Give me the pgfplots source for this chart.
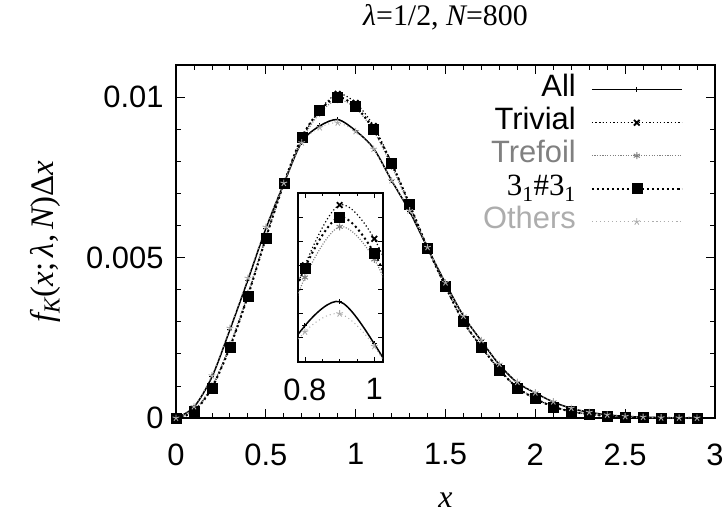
\documentclass[border=0pt]{standalone}
\usepackage{pgfplots}
\usepackage{pgfplotstable}
\pgfplotsset{compat=1.18}
\usepackage{fontspec}
\setmainfont{Liberation Sans}
\newfontfamily\tms{Liberation Serif}
\definecolor{trefc}{gray}{0.5}
\definecolor{othc}{gray}{0.68}
\tikzset{
 sAll/.style={black, line width=1.5bp, mark=+, mark size=2.5bp, mark options={solid,line width=1bp}},
 sTriv/.style={black, line width=1.2bp, dash pattern=on 1.2bp off 2.4bp, mark=x, mark size=4bp, mark options={solid, line width=1.8bp}},
 sTref/.style={trefc, line width=1.2bp, dash pattern=on 1bp off 1.6bp, mark=asterisk, mark size=3.5bp, mark options={solid,line width=1bp}},
 sComp/.style={black, line width=2bp, dash pattern=on 2bp off 3bp, mark=square*, mark size=5bp, mark options={solid, line width=0.5bp}},
 sOth/.style={othc, line width=1bp, dash pattern=on 1bp off 3bp, mark=star, mark size=3.5bp, mark options={solid,line width=0.9bp}},
}
\begin{document}
\pgfplotstableread{
x    all      triv     tref     comp     oth
0.0  0        0        0        0        0
0.1  0.00034  0.00022  0.00024  0.00020  0.00036
0.2  0.00128  0.00096  0.00100  0.00094  0.00132
0.3  0.00275  0.00222  0.00228  0.00220  0.00280
0.4  0.00430  0.00382  0.00388  0.00380  0.00436
0.5  0.00590  0.00562  0.00566  0.00560  0.00595
0.6  0.00730  0.00732  0.00730  0.00730  0.00732
0.7  0.00860  0.00870  0.00865  0.00875  0.00858
0.8  0.00910  0.00960  0.00950  0.00958  0.00905
0.9  0.00930  0.01010  0.00992  0.01000  0.00920
1.0  0.00895  0.00982  0.00965  0.00970  0.00893
1.1  0.00840  0.00910  0.00895  0.00900  0.00838
1.2  0.00740  0.00795  0.00785  0.00794  0.00740
1.3  0.00644  0.00664  0.00660  0.00666  0.00646
1.4  0.00530  0.00530  0.00530  0.00530  0.00532
1.5  0.00420  0.00408  0.00410  0.00410  0.00422
1.6  0.00318  0.00298  0.00300  0.00300  0.00318
1.7  0.00240  0.00220  0.00224  0.00222  0.00242
1.8  0.00166  0.00150  0.00152  0.00150  0.00168
1.9  0.00110  0.00094  0.00096  0.00094  0.00112
2.0  0.00078  0.00060  0.00062  0.00060  0.00079
2.1  0.00050  0.00035  0.00037  0.00035  0.00051
2.2  0.00030  0.00020  0.00021  0.00020  0.00031
2.3  0.00018  0.00012  0.00012  0.00012  0.00018
2.4  0.00010  0.00006  0.00006  0.00006  0.00010
2.5  0.00005  0.00003  0.00003  0.00003  0.00005
2.6  0.00003  0.00001  0.00001  0.00001  0.00003
2.7  0.00001  0.000005 0.000005 0.000005 0.00001
2.8  0.000005 0.000003 0.000003 0.000003 0.000005
2.9  0.000002 0.000002 0.000002 0.000002 0.000002
}\data
\begin{tikzpicture}
\begin{axis}[
 at={(0,0)}, anchor=south west,
 scale only axis, width=539bp, height=353bp,
 xmin=0, xmax=3, ymin=0, ymax=0.011,
 xtick={0,0.5,1,1.5,2,2.5,3}, xticklabels={0,0.5,1,1.5,2,2.5,3},
 ytick={0,0.005,0.01}, yticklabels={0,0.005,0.01},
 scaled y ticks=false, scaled x ticks=false,
 minor x tick num=4, minor y tick num=4,
 tick align=inside, major tick length=9bp, minor tick length=5bp,
 every tick/.style={black, line width=0.8bp},
 axis line style={line width=1.3bp},
 /pgf/number format/assume math mode=true,
 tick label style={font=\fontsize{31}{34}\selectfont},
 xticklabel style={yshift=-22bp},
 yticklabel style={xshift=-9bp},
 title={{\itshape λ}=1/2, {\itshape N}=800},
 title style={font=\tms\fontsize{30}{32}\selectfont, at={(axis description cs:0.5,1.094)}, anchor=base, inner sep=0pt},
 xlabel={\itshape x},
 xlabel style={font=\tms\fontsize{32}{34}\selectfont, at={(axis description cs:0.5,-0.232)}, anchor=center},
 ylabel={{\itshape f}\textsubscript{\itshape K}({\itshape x};\,{\itshape λ},\,{\itshape N})Δ{\itshape x}},
 ylabel style={font=\tms\fontsize{33}{35}\selectfont, at={(axis description cs:-0.243,0.5)}, anchor=center},
 legend plot pos=right,
 legend cell align=right,
 legend image code/.code={\draw[mark repeat=2,mark phase=2,#1] plot coordinates {(0bp,0bp) (45bp,0bp) (90bp,0bp)};},
 legend style={draw=none, fill=none, at={(0.9406,0.973)}, anchor=north east, inner sep=0pt,
   font=\fontsize{31}{34}\selectfont, column sep=14bp, row sep=3bp,
   nodes={text height=21bp, text depth=7bp, inner sep=1bp}},
]
\addplot[sAll, smooth] table[x=x,y=all] {\data};
\addlegendentry{All}
\addplot[sTriv, smooth] table[x=x,y=triv] {\data};
\addlegendentry{Trivial}
\addplot[sTref, smooth] table[x=x,y=tref] {\data};
\addlegendentry{\textcolor{trefc}{Trefoil}}
\addplot[sComp, smooth] table[x=x,y=comp] {\data};
\addlegendentry{{\tms\fontsize{31}{33}\selectfont 3\textsubscript{1}\#3\textsubscript{1}}}
\addplot[sOth, smooth] table[x=x,y=oth] {\data};
\addlegendentry{\textcolor{othc}{Others}}
\end{axis}
\begin{axis}[
 at={(122bp,56bp)}, anchor=south west,
 scale only axis, width=85bp, height=169bp,
 xmin=0.78, xmax=1.025, ymin=0.0088, ymax=0.0102,
 xtick={0.8,1}, xticklabels={0.8,1},
 ytick={0.0088,0.0090,0.0092,0.0094,0.0096,0.0098,0.0100,0.0102}, yticklabels={},
 scaled y ticks=false, scaled x ticks=false,
 minor x tick num=3,
 tick align=inside, major tick length=5bp, minor tick length=3bp,
 every tick/.style={black, line width=0.8bp},
 axis line style={line width=1.3bp},
 axis background/.style={fill=white},
 /pgf/number format/assume math mode=true,
 tick label style={font=\fontsize{31}{34}\selectfont},
 xticklabel style={yshift=-13bp},
]
\addplot[sAll, smooth] table[x=x,y=all] {\data};
\addplot[sTriv, smooth] table[x=x,y=triv] {\data};
\addplot[sTref, smooth] table[x=x,y=tref] {\data};
\addplot[sComp, smooth] table[x=x,y=comp] {\data};
\addplot[sOth, smooth] table[x=x,y=oth] {\data};
\end{axis}
\pgfresetboundingbox
\path (-176bp,-101bp) rectangle (548bp,418bp);
\end{tikzpicture}
\end{document}
